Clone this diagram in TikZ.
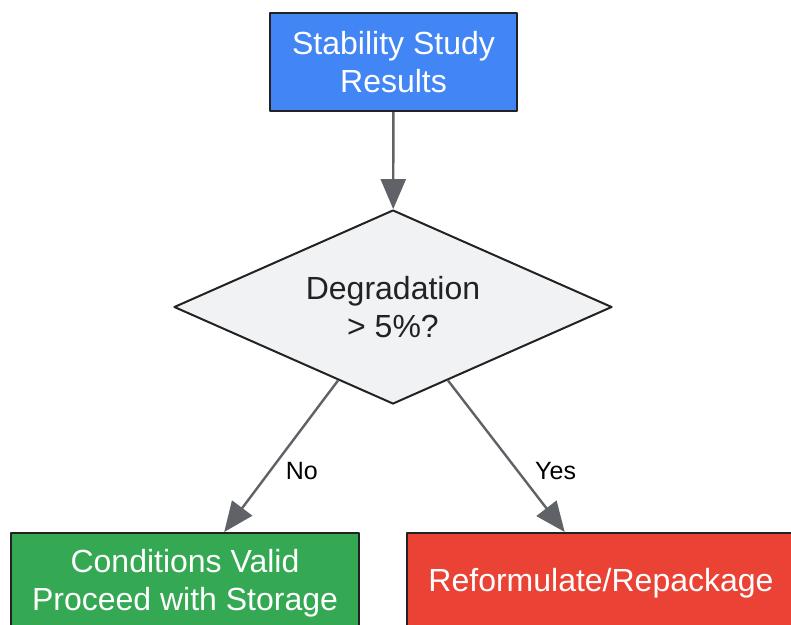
\documentclass[tikz,border=0pt]{standalone}
\usepackage{fontspec}
\setmainfont{Liberation Sans}
\usetikzlibrary{shapes.geometric,arrows.meta,calc}
\definecolor{gblue}{HTML}{4285F4}
\definecolor{ggreen}{HTML}{34A853}
\definecolor{gred}{HTML}{EA4335}
\definecolor{gpale}{HTML}{F1F2F4}
\definecolor{gline}{HTML}{5F6368}
\definecolor{gdark}{HTML}{222222}
\begin{document}
\begin{tikzpicture}[x=1pt, y=-1pt, line join=round,
	box/.style={draw=gdark, line width=2pt, align=center, text=white, inner sep=0pt,
		font=\fontsize{32}{38}\selectfont},
	decision/.style={diamond, draw=gdark, line width=2pt, fill=gpale, text=gdark, align=center,
		inner sep=0pt, aspect=2.26, font=\fontsize{32}{38}\selectfont},
	flow/.style={draw=gline, line width=2.4pt, -{Triangle[length=30pt,width=25pt]}},
	tag/.style={text=black, inner sep=0pt, font=\fontsize{25}{28}\selectfont}]
	\useasboundingbox (0,0) rectangle (791,624);
	\clip (0,0) rectangle (791,624);
	\node[box, fill=gblue, minimum width=247pt, minimum height=98pt] (res) at (393.5,62) {Stability Study\\Results};
	\node[decision, minimum width=438pt, minimum height=194pt] (deg) at (393,307) {Degradation\\> 5\%?};
	\node[box, fill=ggreen, minimum width=348pt, minimum height=100pt] (ok) at (185,583) {Conditions Valid\\Proceed with Storage};
	\node[box, fill=gred, minimum width=388pt, minimum height=100pt] (redo) at (601,583) {Reformulate/Repackage};
	% connectors
	\draw[flow] (res) -- (deg);
	\draw[flow] ($(deg.west)!0.75!(deg.south)$) -- ($(ok.north west)!0.612!(ok.north east)$)
		node[tag, pos=0.6, right=15pt] {No};
	\draw[flow] ($(deg.south)!0.25!(deg.east)$) -- ($(redo.north west)!0.407!(redo.north east)$)
		node[tag, pos=0.6, right=16pt] {Yes};
\end{tikzpicture}
\end{document}
